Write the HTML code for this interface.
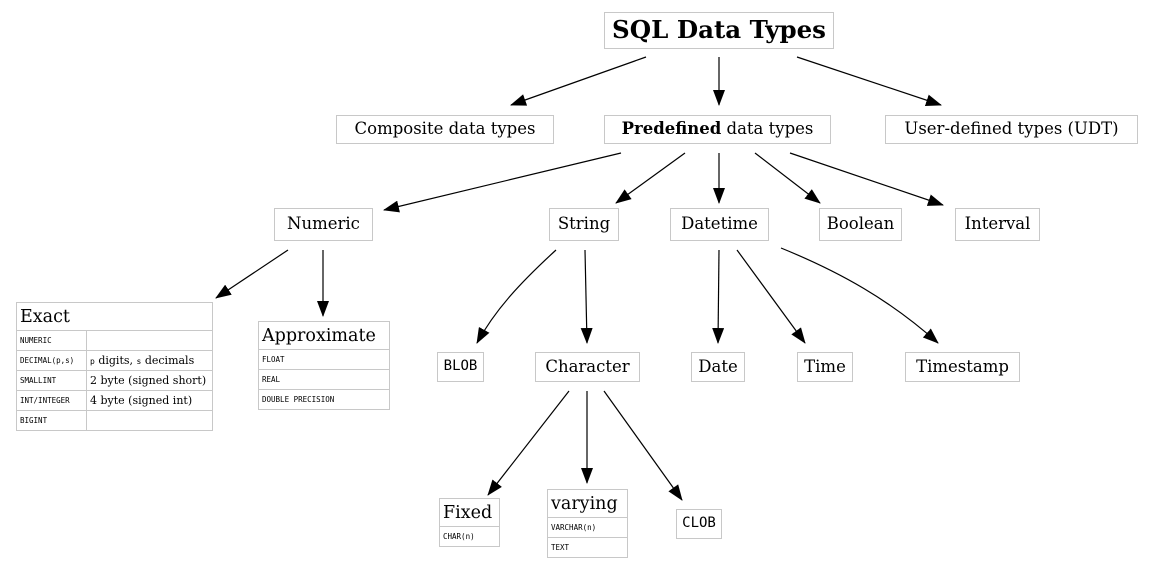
<!DOCTYPE html>
<html><head><meta charset="utf-8"><style>
body{margin:0;width:1158px;height:568px;background:#fff;position:relative;overflow:hidden;font-family:"DejaVu Serif","Liberation Serif",serif;}
.b{position:absolute;border:1px solid #c8c8c8;box-sizing:border-box;display:flex;align-items:center;justify-content:center;font-size:16.5px;color:#000;white-space:nowrap;background:#fff;padding-bottom:2px}
.m{font-family:"DejaVu Sans Mono","Liberation Mono",monospace;font-size:14px}
table{position:absolute;border-collapse:collapse;background:#fff}
td{border:1px solid #c8c8c8;padding:0 3px;height:19px;font-family:"DejaVu Sans Mono","Liberation Mono",monospace;font-size:7.5px;white-space:nowrap}
td.t{font-family:"DejaVu Serif","Liberation Serif",serif;font-size:17.5px;height:27px;padding:0 3px}
td.s{font-family:"DejaVu Serif","Liberation Serif",serif;font-size:11px}
svg{position:absolute;left:0;top:0}
</style></head><body>
<svg width="1158" height="568">
<defs><marker id="h" markerWidth="16" markerHeight="12" refX="15" refY="6" orient="auto" markerUnits="userSpaceOnUse"><path d="M0,0L16,6L0,12z" fill="#000"/></marker></defs>
<g stroke="#000" stroke-width="1.2" fill="none" marker-end="url(#h)">
<path d="M646,57L511,105"/><path d="M719,57L719,105"/><path d="M797,57L941,105"/>
<path d="M621,153L384,210"/><path d="M685,153L616,203"/><path d="M719,153L719,203"/><path d="M755,153L820,203"/><path d="M790,153L943,205"/>
<path d="M288,250L216,298"/><path d="M323,250L323,316"/>
<path d="M556,250C520,283 495,310 477,343"/><path d="M585,250L587,343"/>
<path d="M719,250L718,343"/><path d="M737,250L805,343"/><path d="M781,248C840,272 890,300 938,343"/>
<path d="M569,391L488,495"/><path d="M587,391L587,483"/><path d="M604,391L682,500"/>
</g></svg>
<div class="b" style="left:604px;top:12px;width:230px;height:37px;font-size:24.5px;font-weight:bold">SQL Data Types</div>
<div class="b" style="left:336px;top:115px;width:218px;height:29px">Composite data types</div>
<div class="b" style="left:604px;top:115px;width:227px;height:29px"><b>Predefined</b>&nbsp;data types</div>
<div class="b" style="left:885px;top:115px;width:253px;height:29px">User-defined types (UDT)</div>
<div class="b" style="left:274px;top:208px;width:99px;height:33px">Numeric</div>
<div class="b" style="left:549px;top:208px;width:70px;height:33px">String</div>
<div class="b" style="left:670px;top:208px;width:99px;height:33px">Datetime</div>
<div class="b" style="left:819px;top:208px;width:83px;height:33px">Boolean</div>
<div class="b" style="left:955px;top:208px;width:85px;height:33px">Interval</div>
<table style="left:16px;top:302px;width:197px">
<tr><td class="t" colspan="2">Exact</td></tr>
<tr><td style="width:63px">NUMERIC</td><td></td></tr>
<tr><td>DECIMAL(p,s)</td><td class="s"><span style="font-family:'DejaVu Sans Mono',monospace;font-size:8px">p</span> digits, <span style="font-family:'DejaVu Sans Mono',monospace;font-size:8px">s</span> decimals</td></tr>
<tr><td>SMALLINT</td><td class="s">2 byte (signed short)</td></tr>
<tr><td>INT/INTEGER</td><td class="s">4 byte (signed int)</td></tr>
<tr><td>BIGINT</td><td></td></tr>
</table>
<table style="left:258px;top:321px;width:132px">
<tr><td class="t">Approximate</td></tr>
<tr><td>FLOAT</td></tr><tr><td>REAL</td></tr><tr><td>DOUBLE PRECISION</td></tr>
</table>
<div class="b m" style="left:437px;top:352px;width:47px;height:30px">BLOB</div>
<div class="b" style="left:535px;top:352px;width:105px;height:30px">Character</div>
<div class="b" style="left:691px;top:352px;width:54px;height:30px">Date</div>
<div class="b" style="left:797px;top:352px;width:56px;height:30px">Time</div>
<div class="b" style="left:905px;top:352px;width:115px;height:30px">Timestamp</div>
<table style="left:439px;top:498px;width:61px">
<tr><td class="t">Fixed</td></tr><tr><td>CHAR(n)</td></tr>
</table>
<table style="left:547px;top:489px;width:81px">
<tr><td class="t">varying</td></tr><tr><td>VARCHAR(n)</td></tr><tr><td>TEXT</td></tr>
</table>
<div class="b m" style="left:676px;top:509px;width:46px;height:30px">CLOB</div>
</body></html>
